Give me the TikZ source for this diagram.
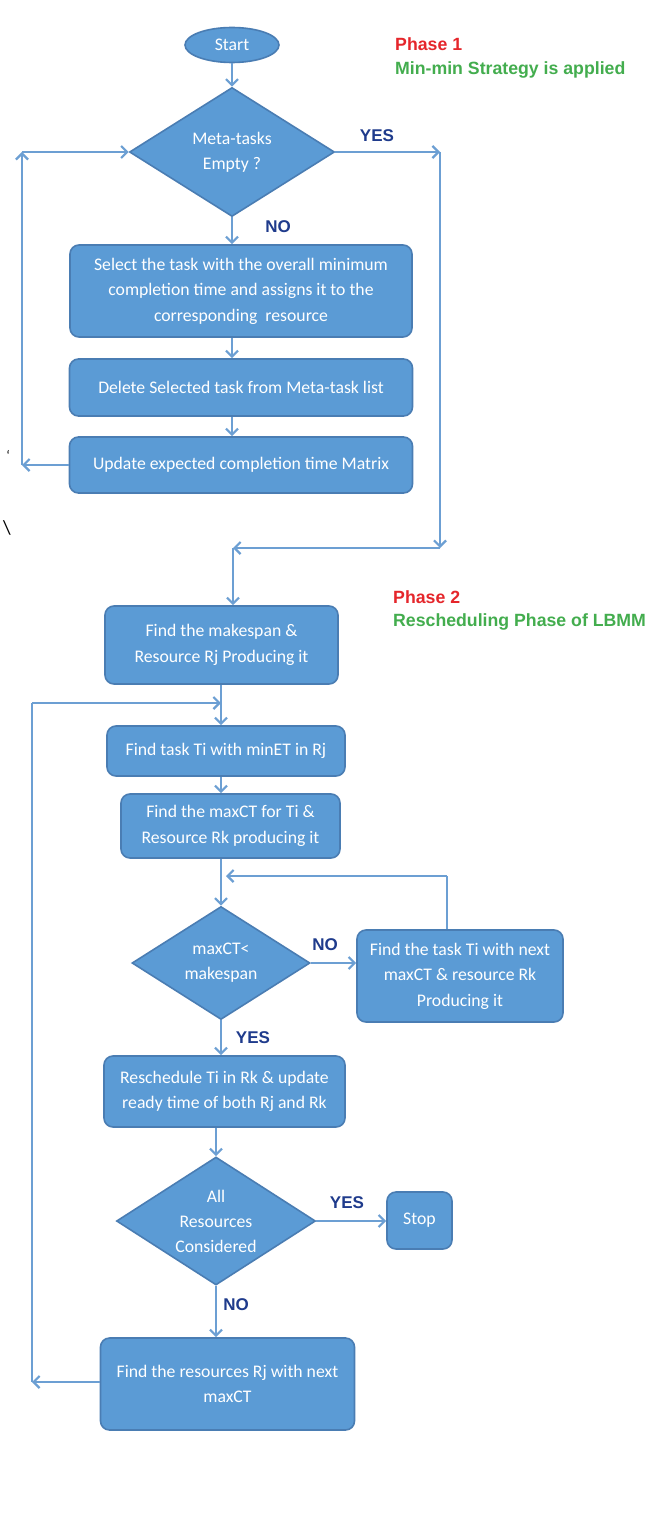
\documentclass[tikz,border=0pt]{standalone}
\usepackage{fontspec}
\setmainfont{Carlito}
\newfontfamily\lblfont{Liberation Sans}
\usetikzlibrary{shapes.geometric,arrows.meta}
\definecolor{boxfill}{HTML}{5B9BD5}
\definecolor{boxline}{HTML}{4A7DB3}
\definecolor{arrowc}{HTML}{6C9FD3}
\definecolor{lblc}{HTML}{1F3B8C}
\definecolor{phred}{HTML}{E5262B}
\definecolor{phgreen}{HTML}{43AD4E}
\begin{document}
\begin{tikzpicture}[x=1pt,y=-1pt,
  box/.style={draw=boxline, line width=1.6pt, fill=boxfill, rounded corners=9pt,
    text=white, align=center, font=\fontsize{17.7}{25.5}\selectfont, inner sep=0pt},
  dia/.style={diamond, aspect=1.57, draw=boxline, line width=1.6pt, fill=boxfill, text=white,
    align=center, font=\fontsize{17.7}{25}\selectfont, inner sep=0pt},
  conn/.style={draw=arrowc, line width=2.8pt},
  arr/.style={conn, -{Straight Barb[length=6pt,width=12pt,line width=2.2pt]}},
  lbl/.style={text=lblc, font=\lblfont\bfseries\fontsize{17}{20}\selectfont, inner sep=0pt},
  phr/.style={text=phred, font=\lblfont\bfseries\fontsize{17.7}{20}\selectfont, inner sep=0pt, anchor=west},
  phg/.style={text=phgreen, font=\lblfont\bfseries\fontsize{17.7}{20}\selectfont, inner sep=0pt, anchor=west},
  stray/.style={text=black, inner sep=0pt}
]
\fill[white] (0,0) rectangle (653,1517);
\useasboundingbox (0,0) rectangle (653,1517);

% ---------- Phase 1 ----------
\node[ellipse, draw=boxline, line width=1.6pt, fill=boxfill, text=white,
  minimum width=94pt, minimum height=35pt, inner sep=0pt,
  font=\fontsize{17.7}{20}\selectfont] (start) at (232,45) {Start};
\node[dia, minimum width=205pt, minimum height=129pt] (d1) at (232,152) {Meta-tasks\\Empty ?};
\node[box, minimum width=342pt, minimum height=92pt] (b1) at (241,291)
  {Select the task with the overall minimum\\completion time and assigns it to the\\corresponding\ \ resource};
\node[box, minimum width=343pt, minimum height=57pt] (b2) at (241,387.5) {Delete Selected task from Meta-task list};
\node[box, minimum width=343pt, minimum height=56pt] (b3) at (241,465) {Update expected completion time Matrix};

\node[phr] (ph1) at (395,44) {Phase 1};
\node[phg] (ph1s) at (395,70) {Min-min Strategy is applied};
\node[lbl] (yes1) at (377,136) {YES};
\node[lbl] (no1) at (278,227) {NO};

\node[stray, font=\fontsize{14}{14}\selectfont] (s1) at (8,455) {`};
\node[stray, font=\fontsize{20}{20}\selectfont] (s2) at (7,528) {\textbackslash};

\coordinate (c1) at (440,152);
\coordinate (c2) at (440,548);
\coordinate (c3) at (233,548);
\coordinate (l1) at (22,465);
\coordinate (l2) at (22,152);

\draw[arr] (start) -- (d1.north);
\draw[arr] (d1.south) -- (d1.south |- b1.north);
\draw[arr] (b1.south -| d1.south) -- (d1.south |- b2.north);
\draw[arr] (b2.south -| d1.south) -- (d1.south |- b3.north);
\draw[arr] (d1.east) -- (c1);
\draw[arr] (c1) -- (c2);
\draw[arr] (c2) -- (c3);
\draw[arr] (b3.west) -- (l1);
\draw[arr] (l1) -- (l2);
\draw[arr] (l2) -- (d1.west);

% ---------- Phase 2 ----------
\node[box, minimum width=233pt, minimum height=78pt] (b4) at (221.5,645)
  {Find the makespan \&\\Resource Rj Producing it};
\node[box, minimum width=238pt, minimum height=50pt] (b5) at (226,751)
  {Find task Ti with minET in Rj};
\node[box, minimum width=219pt, minimum height=64pt] (b6) at (230.5,826)
  {Find the maxCT for Ti \&\\Resource Rk producing it};
\node[dia, minimum width=178pt, minimum height=113pt] (d2) at (221,963)
  {maxCT<\\makespan};
\node[box, minimum width=206pt, minimum height=92pt] (b7) at (460,976)
  {Find the task Ti with next\\maxCT \& resource Rk\\Producing it};
\node[box, minimum width=241pt, minimum height=71pt] (b9) at (224.5,1091.5)
  {Reschedule Ti in Rk \& update\\ready time of both Rj and Rk};
\node[dia, minimum width=199pt, minimum height=128pt] (d3) at (216,1221)
  {All\\Resources\\Considered};
\node[box, minimum width=65pt, minimum height=57pt] (stop) at (419.5,1220.5) {Stop};
\node[box, minimum width=254pt, minimum height=92pt] (b8) at (227.5,1384)
  {Find the resources Rj with next\\maxCT};

\node[phr] (ph2) at (393,597) {Phase 2};
\node[phg] (ph2s) at (393,622) {Rescheduling Phase of LBMM};
\node[lbl] (no2) at (325,945) {NO};
\node[lbl] (yes2) at (253,1038) {YES};
\node[lbl] (yes3) at (347,1203) {YES};
\node[lbl] (no3) at (236,1305) {NO};

\coordinate (j1) at (221,703);
\coordinate (l3) at (32,1382);
\coordinate (l4) at (32,703);
\coordinate (k1) at (447,876);
\coordinate (k2) at (226,876);

\draw[arr] (c3) -- (c3 |- b4.north);
\draw[arr] (b4.south -| j1) -- (j1 |- b5.north);
\draw[arr] (b5.south -| j1) -- (j1 |- b6.north);
\draw[arr] (b6.south -| d2.north) -- (d2.north);
\draw[arr] (d2.east) -- (d2.east -| b7.west);
\draw[conn] (b7.north -| k1) -- (k1);
\draw[arr] (k1) -- (k2);
\draw[arr] (d2.south) -- (d2.south |- b9.north);
\draw[arr] (b9.south -| d3.north) -- (d3.north);
\draw[arr] (d3.east) -- (d3.east -| stop.west);
\draw[arr] (d3.south) -- (d3.south |- b8.north);
\draw[arr] (b8.west |- l3) -- (l3);
\draw[conn] (l3) -- (l4);
\draw[arr] (l4) -- (j1);
\end{tikzpicture}
\end{document}
